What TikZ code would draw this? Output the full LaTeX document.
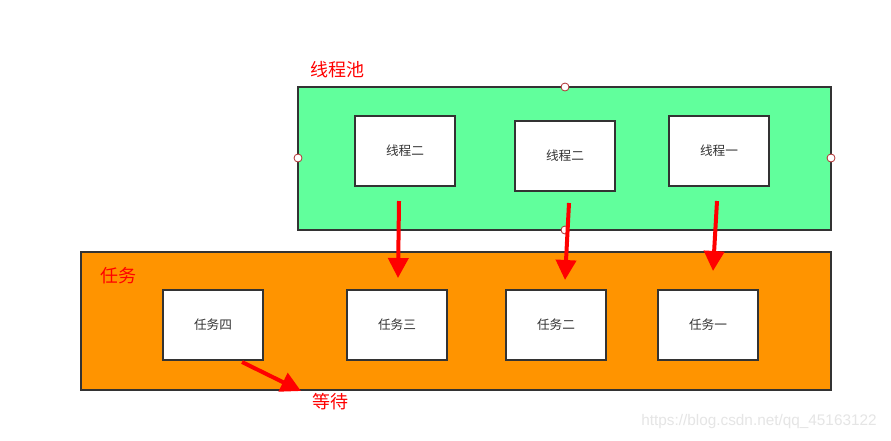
\documentclass[tikz,border=0pt]{standalone}
\usepackage{fontspec}
\newfontfamily\cjk{Noto Sans CJK SC}
\newfontfamily\wm{Liberation Sans}
\usetikzlibrary{arrows.meta}
\definecolor{poolgreen}{HTML}{61FF9C}
\definecolor{taskorange}{HTML}{FF9400}
\definecolor{edge}{HTML}{333333}
\definecolor{handle}{HTML}{B03030}
\tikzset{
  area/.style={draw=edge, line width=1.5pt},
  inbox/.style={draw=edge, line width=1.5pt, fill=white, minimum width=75pt, minimum height=52.5pt, inner sep=0pt, font=\cjk\fontsize{9.5}{11}\selectfont, text=black!80},
  lbl/.style={text=red, font=\cjk\fontsize{13.5}{15}\selectfont, inner sep=0pt},
  hnd/.style={circle, draw=handle, fill=white, line width=0.6pt, minimum size=6pt, inner sep=0pt},
  redarrow/.style={draw=red, line width=3pt, -{Triangle[width=15pt,length=15pt]}}
}
\begin{document}
\begin{tikzpicture}[x=0.75pt,y=-0.75pt]
\useasboundingbox (0,0) rectangle (891,440);
\fill[white] (0,0) rectangle (891,440);
% thread pool
\draw[area, fill=poolgreen] (298,87) rectangle (831,230);
\node[lbl] (poollbl) at (337,70) {线程池};
\node[inbox] (t1) at (405,151) {线程二};
\node[inbox] (t2) at (565,156) {线程二};
\node[inbox] (t3) at (719,151) {线程一};
% tasks
\draw[area, fill=taskorange] (81,252) rectangle (831,390);
\node[lbl] (tasklbl) at (118,276) {任务};
\node[inbox] (k4) at (213,325) {任务四};
\node[inbox] (k3) at (397,325) {任务三};
\node[inbox] (k2) at (556,325) {任务二};
\node[inbox] (k1) at (708,325) {任务一};
\node[lbl] (waitlbl) at (330,402) {等待};
% handles
\node[hnd] (h1) at (565,87) {};
\node[hnd] (h2) at (298,158) {};
\node[hnd] (h3) at (831,158) {};
\node[hnd] (h4) at (565,230) {};
% arrows
\coordinate (a1s) at (399,201);
\coordinate (a1e) at (398,278);
\coordinate (a2s) at (569,203);
\coordinate (a2e) at (565,280);
\coordinate (a3s) at (717,201);
\coordinate (a3e) at (713,271);
\coordinate (a4s) at (242,362);
\coordinate (a4e) at (301,391);
\draw[redarrow] (a1s) -- (a1e);
\draw[redarrow] (a2s) -- (a2e);
\draw[redarrow] (a3s) -- (a3e);
\draw[redarrow] (a4s) -- (a4e);
% watermark
\node[text=black!10, font=\wm\fontsize{11.5}{13}\selectfont, inner sep=0pt] (wm) at (759,422) {https://blog.csdn.net/qq\_45163122};
\end{tikzpicture}
\end{document}
